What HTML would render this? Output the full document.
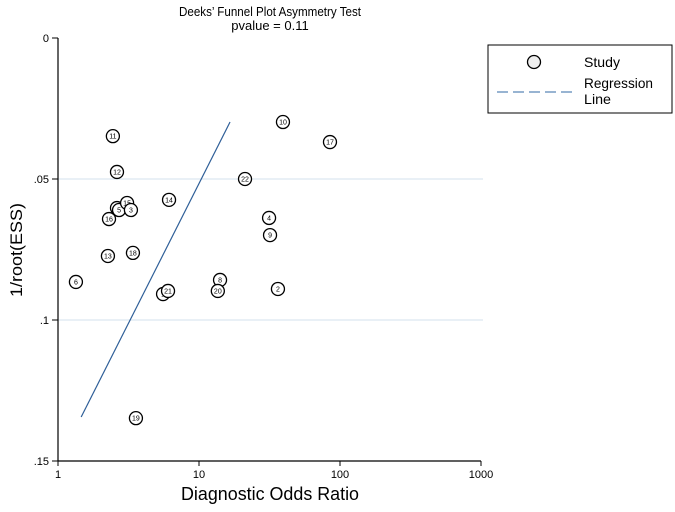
<!DOCTYPE html>
<html><head><meta charset="utf-8"><style>
body{margin:0;background:#fff;font-family:"Liberation Sans",sans-serif}
svg text{font-family:"Liberation Sans",sans-serif}
</style></head><body>
<svg id="chart" width="675" height="507" viewBox="0 0 675 507" xmlns="http://www.w3.org/2000/svg">
<text x="270" y="16" font-size="13" text-anchor="middle" textLength="182" lengthAdjust="spacingAndGlyphs">Deeks’ Funnel Plot Asymmetry Test</text>
<text x="270" y="30" font-size="13" text-anchor="middle">pvalue =  0.11</text>
<g id="grid"></g>
<line x1="58" y1="38" x2="58" y2="461" stroke="#000" stroke-width="1.2"/>
<line x1="58" y1="461" x2="481" y2="461" stroke="#000" stroke-width="1.2"/>
<g id="ticks"></g>
<g id="marks"></g>
<text transform="translate(22,250) rotate(-90)" font-size="17" text-anchor="middle" textLength="94" lengthAdjust="spacingAndGlyphs">1/root(ESS)</text>
<text x="270" y="500" font-size="18" text-anchor="middle" textLength="178" lengthAdjust="spacingAndGlyphs">Diagnostic Odds Ratio</text>
<g>
<rect x="488" y="45" width="184" height="68" fill="#fff" stroke="#000" stroke-width="1"/>
<circle cx="534" cy="62" r="6.5" fill="#eee" stroke="#000" stroke-width="1.3"/>
<text x="584" y="67" font-size="14" textLength="36" lengthAdjust="spacingAndGlyphs">Study</text>
<line x1="497" y1="92" x2="572" y2="92" stroke="#5a86b8" stroke-width="1.2" stroke-dasharray="11,5"/>
<text x="584" y="88" font-size="14" textLength="69" lengthAdjust="spacingAndGlyphs">Regression</text>
<text x="584" y="104" font-size="14" textLength="27" lengthAdjust="spacingAndGlyphs">Line</text>
</g>
</svg>
<script>
const studyLabels=["11","12","10","17","22","14","4","9","7","5","15","3","16","13","18","6","1","21","8","20","2","19"];
const studyDOR=[2.45,2.62,39.4,84.9,21.2,6.13,31.4,31.9,2.62,2.71,3.09,3.29,2.30,2.26,3.40,1.34,5.56,6.03,14.1,13.6,36.3,3.57];
const studyInvRootESS=[0.0348,0.0475,0.0298,0.0369,0.0500,0.0574,0.0638,0.0699,0.0603,0.0610,0.0585,0.0610,0.0642,0.0773,0.0762,0.0865,0.0908,0.0897,0.0858,0.0897,0.0890,0.1348];
const regressionDOR=[1.46,16.6];
const regressionY=[0.1344,0.0298];
const xTicks=[1,10,100,1000];
const xTickLabels=["1","10","100","1000"];
const yTicks=[0,0.05,0.1,0.15];
const yTickLabels=["0",".05",".1",".15"];
const gridY=[0.05,0.1];

const NS="http://www.w3.org/2000/svg";
const X0=58,X1=481,Y0=38,Y1=461;
const xs=v=>X0+Math.log10(v)/3*(X1-X0);
const ys=v=>Y0+v/0.15*(Y1-Y0);
function mk(tag,attrs,parent){const e=document.createElementNS(NS,tag);for(const k in attrs)e.setAttribute(k,attrs[k]);parent.appendChild(e);return e;}
const grid=document.getElementById('grid'),ticks=document.getElementById('ticks'),marks=document.getElementById('marks');
gridY.forEach(v=>{const l=mk('line',{x1:X0,x2:483,y1:ys(v),y2:ys(v),stroke:'#dce8f0','stroke-width':1.2},grid);

});
xTicks.forEach((v,i)=>{const x=xs(v);const l=mk('line',{x1:x,x2:x,y1:Y1,y2:Y1+5,stroke:'#000'},ticks);


const t=mk('text',{x:x,y:Y1+17,'font-size':11,'text-anchor':'middle'},ticks);t.textContent=xTickLabels[i];

});
yTicks.forEach((v,i)=>{const y=ys(v);const l=mk('line',{x1:X0-6,x2:X0,y1:y,y2:y,stroke:'#000'},ticks);


const t=mk('text',{x:X0-9,y:y+4,'font-size':11,'text-anchor':'end'},ticks);t.textContent=yTickLabels[i];

});
const rl=mk('line',{x1:xs(regressionDOR[0]),y1:ys(regressionY[0]),x2:xs(regressionDOR[1]),y2:ys(regressionY[1]),stroke:'#2f5f98','stroke-width':1.2},marks);


studyLabels.forEach((lab,i)=>{const g=mk('g',{},marks);


const cx=xs(studyDOR[i]),cy=ys(studyInvRootESS[i]);
mk('circle',{cx:cx,cy:cy,r:6.5,fill:'#fff',stroke:'#000','stroke-width':1.3},g);
const t=mk('text',{x:cx,y:cy+2.5,'font-size':7,'text-anchor':'middle'},g);t.textContent=lab;});
</script>
</body></html>
